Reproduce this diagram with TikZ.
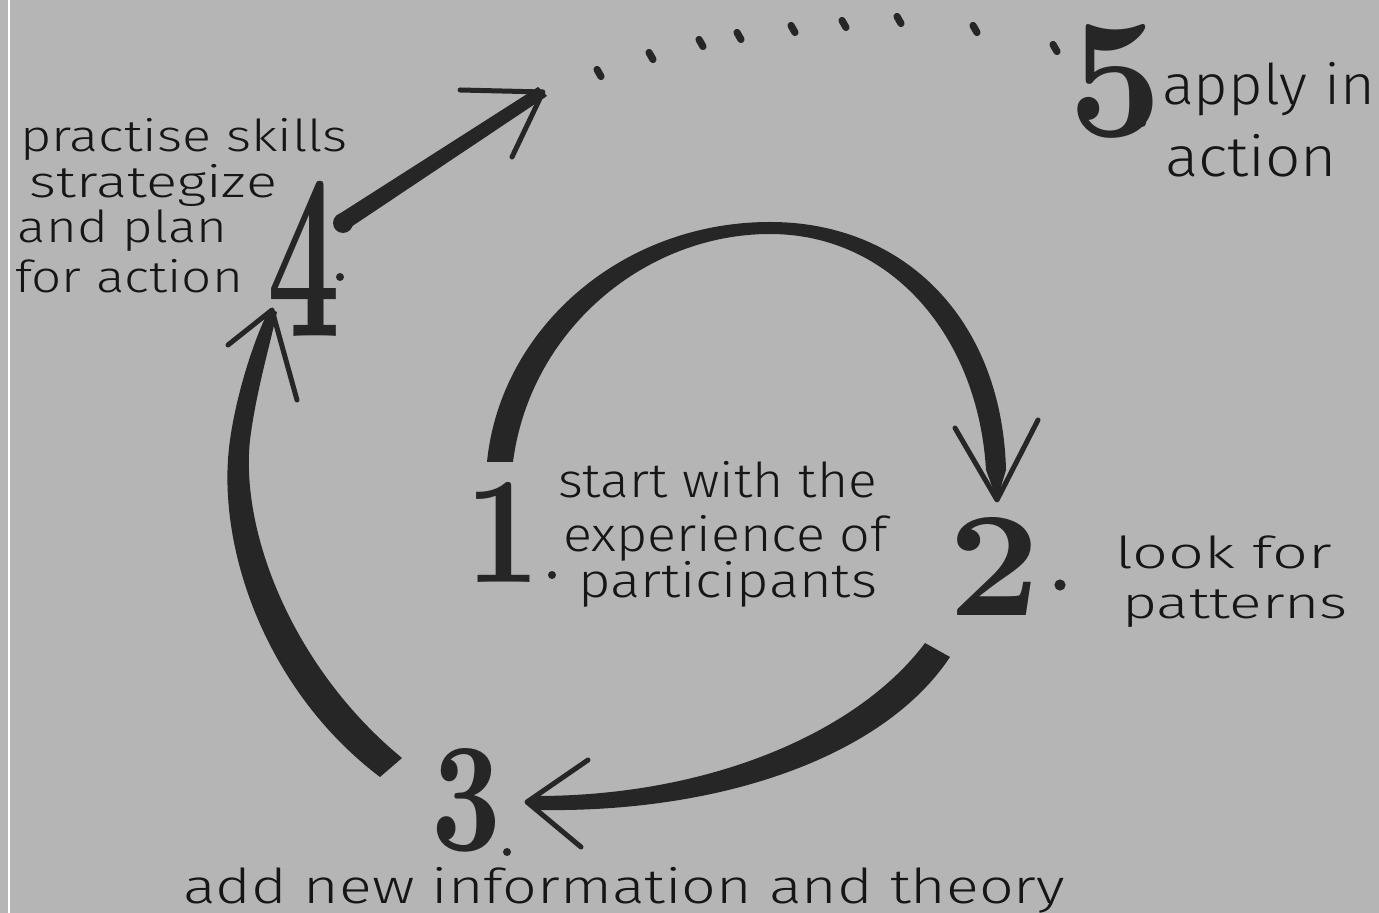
\documentclass[tikz,border=0pt]{standalone}
\usepackage{fontspec}
\usepackage{graphicx}
\newfontfamily\handfont{Fira Sans Light}
\newdimen\pxu \pxu=0.5pt
\definecolor{paper}{RGB}{181,181,181}
\definecolor{ink}{RGB}{38,38,38}
\definecolor{textink}{RGB}{22,22,22}
\newcommand{\hw}[2]{\resizebox{#1\pxu}{\height}{#2}}
\newcommand{\bignum}[3]{\resizebox{#1\pxu}{#2\pxu}{\bfseries #3}}
\begin{document}
\begin{tikzpicture}[x=0.5pt,y=-0.5pt,
  hand/.style={inner sep=0pt,outer sep=0pt,anchor=base west,text=textink},
  handA/.style={hand,font=\handfont\fontsize{22pt}{26pt}\selectfont},
  handB/.style={hand,font=\handfont\fontsize{24pt}{28pt}\selectfont},
  handC/.style={hand,font=\handfont\fontsize{28pt}{32pt}\selectfont},
  num/.style={inner sep=0pt,outer sep=0pt,anchor=south west,text=ink},
  shaft/.style={fill=ink},
  tipline/.style={draw=ink,line width=2.5pt,line cap=round,line join=round},
  dotmark/.style={draw=ink,line width=3.6pt,line cap=round}]
\fill[paper] (0,0) rectangle (1379,913);
\useasboundingbox (0,0) rectangle (1379,913);
\draw[white,line width=1pt] (9,0) -- (9,913);

% texts
\node[handA] (t4a) at (20,152) {\hw{328}{practise skills}};
\node[handA] (t4b) at (30,198) {\hw{247}{strategize}};
\node[handA] (t4c) at (18,243) {\hw{209}{and plan}};
\node[handA] (t4d) at (15,293) {\hw{228}{for action}};

\node[handB] (t1a) at (558,498) {\hw{319}{start with the}};
\node[handB] (t1b) at (563,552) {\hw{325}{experience of}};
\node[handB] (t1c) at (578,597) {\hw{299}{participants}};

\node[handA] (t2a) at (1115,568) {\hw{217}{look for}};
\node[handA] (t2b) at (1122,618) {\hw{226}{patterns}};

\node[handC] (t5a) at (1162,105) {\hw{213}{apply in}};
\node[handC] (t5b) at (1165,177) {\hw{172}{action}};

\node[handB] (t3) at (183,903) {\hw{882}{add new information and theory}};

% numbers
\node[num] (n1) at (465,582) {\bignum{75}{100}{1}};
\node[num] (n2) at (948,615) {\bignum{92}{98}{2}};
\node[num] (n3) at (431,852) {\bignum{70}{102}{3}};
\node[num] (n4) at (267,337) {\bignum{73}{155}{4}};
\node[num] (n5) at (1068,138) {\bignum{94}{112}{5}};
\fill[ink] (552,575) circle (2pt);
\fill[ink] (1060,585) circle (2.8pt);
\fill[ink] (507,852) circle (2pt);
\fill[ink] (340,277) circle (2pt);
\fill[ink] (1142,123) circle (2pt);

% tips
\coordinate (a2tip) at (997,500);
\coordinate (b3tip) at (527,802);
\coordinate (c4tip) at (272,310);
\coordinate (d5tip) at (543,92);

% 1 -> 2
\fill[shaft] (487,462) .. controls (500,330) and (620,222) .. (770,222)
  .. controls (905,222) and (1002,320) .. (1006,470) -- (a2tip) -- (986,470)
  .. controls (978,335) and (890,234) .. (770,234)
  .. controls (645,234) and (530,330) .. (513,462) -- cycle;
\draw[tipline] (955,428) -- (a2tip) -- (1038,420);

% 2 -> 3
\fill[shaft] (925,643) -- (950,657) .. controls (885,755) and (725,813) .. (538,810)
  -- (b3tip) -- (540,796) .. controls (715,795) and (860,730) .. (925,643) -- cycle;
\draw[tipline] (588,760) -- (b3tip) -- (581,847);

% 3 -> 4
\fill[shaft] (380,777) .. controls (265,690) and (215,545) .. (230,440)
  .. controls (237,390) and (256,335) .. (268,312) -- (c4tip) -- (277,312)
  .. controls (270,345) and (256,392) .. (250,440)
  .. controls (240,535) and (295,670) .. (402,758) -- cycle;
\draw[tipline] (228,345) -- (c4tip) -- (297,400);

% 4 -> 5
\fill[shaft] (336,216) -- (538,87) -- (547,96) -- (345,231) -- cycle;
\fill[ink] (343,223) circle (5pt);
\draw[tipline] (460,90) -- (d5tip) -- (512,157);

% dotted path to 5
\foreach \x/\y in {599/73,651/56,701/43,739/36,793/29,844/24,899/20,975/29,1055/48}
  \draw[dotmark] (\x-2,\y-3.5) -- (\x+2,\y+3.5);
\end{tikzpicture}
\end{document}
